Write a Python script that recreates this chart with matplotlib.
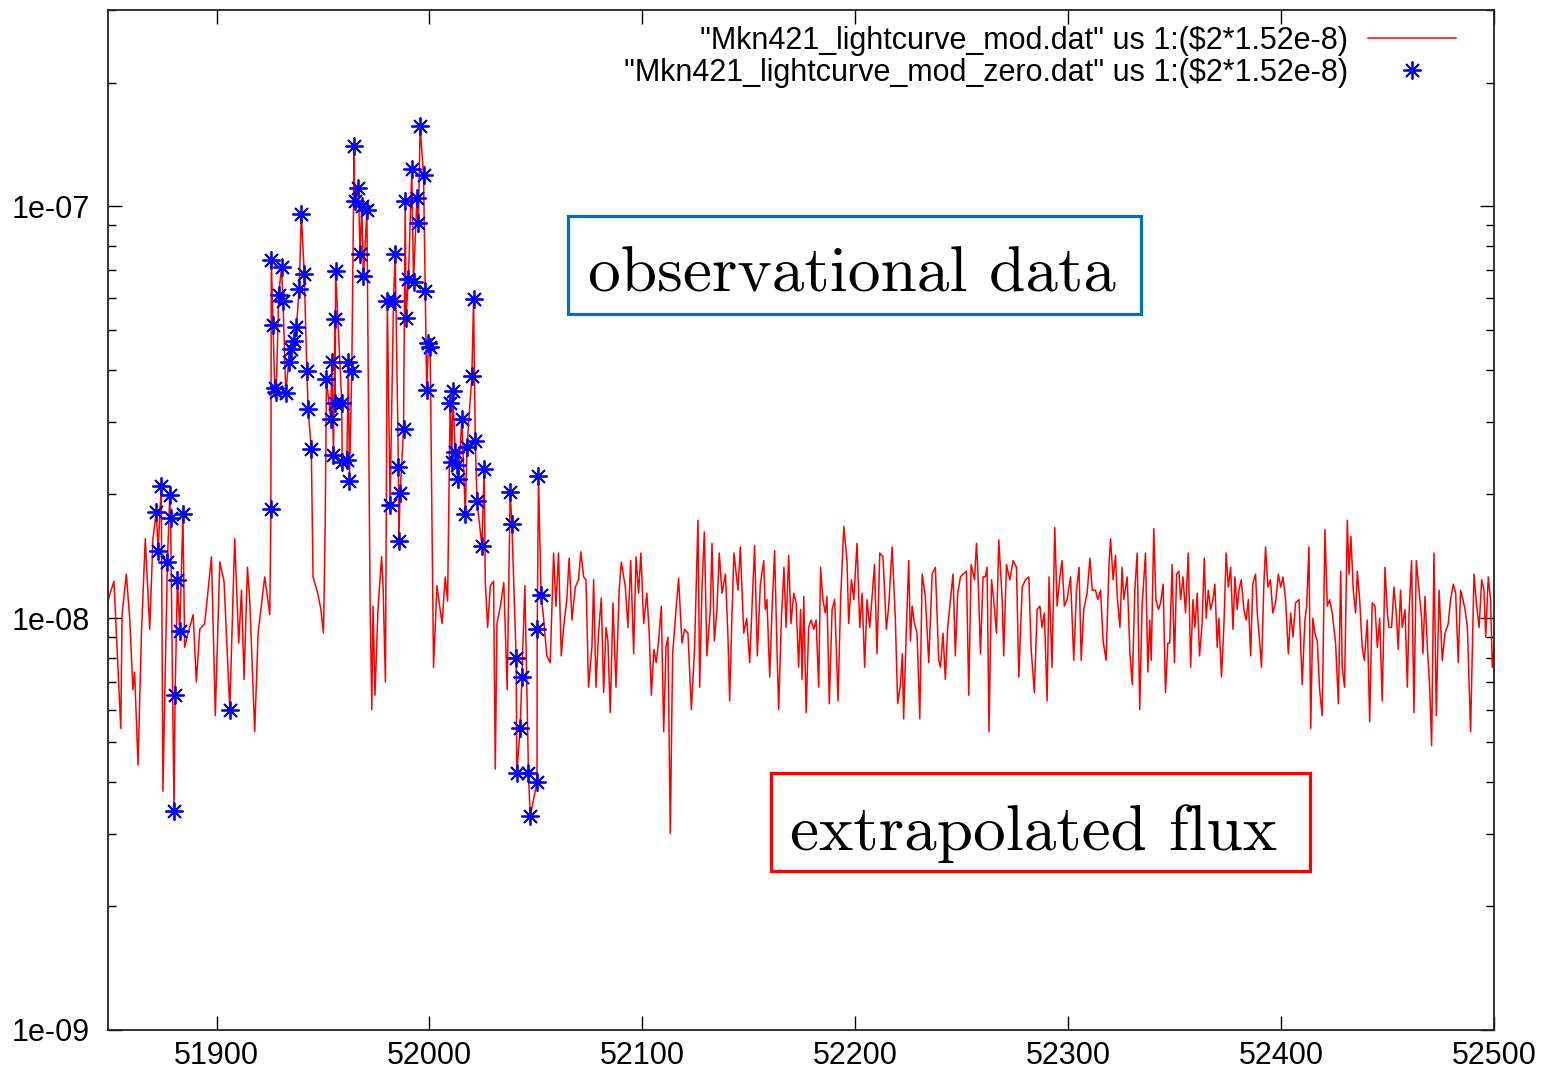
import matplotlib
matplotlib.use("Agg")
import matplotlib.pyplot as plt
import matplotlib.ticker as mticker
from matplotlib.lines import Line2D
from matplotlib.patches import Rectangle
import numpy as np

# ---------------- data (flux in units of 1e-8) ----------------
scale = 1e-8

star_mjd = [51871.7, 51872.5, 51874.0, 51876.9, 51878.0, 51878.4, 51880.0, 51880.5, 51881.6, 51882.7, 51884.2,
            51906.2,
            51925.5, 51925.7, 51926.5, 51927.3, 51928.0, 51929.2, 51930.5, 51931.2, 51932.5, 51933.8, 51935.0,
            51936.3, 51937.5, 51938.8, 51939.8, 51941.2, 51942.4, 51943.0, 51944.5,
            51951.6, 51953.6, 51954.1, 51954.9, 51955.6, 51955.7, 51955.9, 51958.8, 51959.0, 51961.2, 51961.9,
            51962.4, 51963.5, 51964.6, 51964.8, 51966.6, 51967.4, 51968.2, 51969.0, 51970.6,
            51980.2, 51981.5, 51983.1, 51983.9, 51985.4, 51985.6, 51986.2, 51987.8, 51988.6, 51989.0, 51990.1,
            51991.7, 51992.5, 51994.1, 51994.8, 51995.6, 51997.2, 51998.0, 51998.7, 51999.5, 52000.3,
            52009.7, 52010.5, 52010.9, 52012.1, 52012.9, 52013.6, 52015.2, 52016.8, 52017.6, 52019.9, 52020.7,
            52021.5, 52022.3, 52024.6, 52025.7,
            52037.9, 52038.7, 52040.7, 52041.0, 52042.6, 52043.4, 52046.5, 52047.3, 52050.5, 52050.6, 52051.2,
            52052.4]
star_flux = [1.81, 1.46, 2.09, 1.37, 1.99, 1.75, 0.34, 0.65, 1.24, 0.93, 1.79,
             0.60,
             1.84, 7.42, 5.14, 3.62, 3.55, 6.10, 7.13, 5.90, 3.52, 4.18, 4.50,
             4.72, 5.10, 6.30, 9.60, 6.84, 3.98, 3.22, 2.57,
             3.81, 3.05, 4.18, 2.49, 5.32, 3.34, 6.96, 3.34, 2.39, 2.42, 4.20,
             2.15, 3.98, 14.05, 10.3, 11.1, 7.67, 10.0, 6.79, 9.80,
             5.91, 1.88, 5.91, 7.67, 2.33, 1.54, 2.01, 2.88, 10.3, 5.37, 6.67,
             12.3, 6.56, 10.5, 9.10, 15.7, 11.9, 6.22, 3.58, 4.65, 4.55,
             3.34, 2.39, 3.57, 2.53, 2.36, 2.18, 3.05, 1.79, 2.60, 3.87, 5.95,
             2.70, 1.93, 1.50, 2.30,
             2.03, 1.69, 0.80, 0.42, 0.54, 0.72, 0.42, 0.33, 0.40, 0.94, 2.21,
             1.14]

# gap-filling points inside the observing period (red line only)
gap_mjd = [51849.0, 51849.8, 51851.8, 51855.0, 51855.6, 51857.6, 51859.2, 51860.7, 51861.5, 51863.1, 51864.7,
           51866.5, 51868.6, 51870.1, 51874.8, 51885.0, 51886.6, 51889.0, 51890.5, 51892.1, 51894.4, 51897.6,
           51899.4, 51901.5, 51903.5, 51908.5, 51910.4, 51911.7, 51912.9, 51914.5, 51915.6, 51917.9, 51919.5,
           51922.6, 51925.0, 51945.3, 51947.5, 51949.0, 51950.2, 51951.0,
           51972.1, 51972.9, 51973.5, 51974.4, 51975.8, 51977.5, 51978.2, 51979.3,
           52001.9, 52003.5, 52005.9, 52007.4, 52008.5,
           52026.2, 52027.3, 52028.6, 52030.1, 52030.9, 52031.7, 52033.3, 52034.9, 52036.5,
           52044.8, 52053.6]
gap_flux = [1.10, 1.14, 1.23, 0.54, 1.02, 1.28, 1.00, 0.67, 0.74, 0.44, 0.92,
            1.56, 0.94, 1.56, 0.38, 0.85, 0.92, 1.02, 0.70, 0.94, 0.97, 1.41,
            0.58, 1.37, 1.23, 1.56, 0.87, 1.17, 0.71, 1.33, 1.10, 0.53, 0.92,
            1.26, 1.02, 1.26, 1.15, 1.05, 0.92, 1.65,
            1.10, 0.60, 1.07, 0.65, 1.05, 1.41, 1.20, 0.70,
            0.76, 1.20, 0.97, 1.26, 1.10,
            1.23, 0.95, 1.20, 1.23, 0.43, 0.97, 1.07, 1.22, 0.67,
            1.20, 1.00]

# extrapolated flux after the observations
ext_mjd = [52055.1, 52056.7, 52058.3, 52059.4, 52060.6, 52061.9, 52063.0, 52064.5, 52065.6, 52066.9, 52068.5,
           52070.0, 52071.1, 52072.4, 52073.5, 52074.7, 52076.3, 52077.1, 52078.2, 52079.4, 52080.7, 52081.8,
           52082.9, 52083.8, 52084.9, 52086.2, 52087.6, 52089.1, 52090.1, 52092.0, 52093.2, 52094.5, 52095.9,
           52097.0, 52098.2, 52099.3, 52100.6, 52102.1, 52103.2, 52104.2, 52105.4, 52106.5, 52107.6, 52108.9,
           52110.0, 52111.1, 52112.0, 52113.1, 52114.2, 52115.8, 52117.0, 52118.6, 52119.8, 52121.4, 52123.0,
           52124.5, 52126.1, 52126.9, 52128.0, 52129.1, 52130.3, 52131.9, 52132.7, 52133.8, 52135.0, 52136.1,
           52137.4, 52139.0, 52140.2, 52141.0, 52142.1, 52143.0, 52144.9, 52146.0, 52147.6, 52149.0, 52150.4,
           52151.5, 52152.7, 52154.0, 52155.4, 52157.0, 52157.7, 52158.5, 52159.8, 52160.9, 52162.1, 52163.2,
           52164.0, 52165.3, 52166.5, 52167.5, 52168.7, 52169.8, 52171.1, 52172.2, 52173.4, 52174.3, 52175.0,
           52175.8, 52176.9, 52178.1, 52179.2, 52180.5, 52181.6, 52182.8, 52183.7, 52184.8, 52185.9, 52186.7,
           52187.8, 52189.1, 52190.3, 52191.9, 52193.1, 52194.6, 52196.1, 52196.9, 52198.2, 52199.3, 52200.8,
           52202.1, 52203.2, 52204.4,
           52205.5, 52206.8, 52207.9, 52209.0, 52210.2, 52211.5, 52213.0, 52214.6, 52215.7, 52217.3, 52218.8,
           52219.9, 52221.2, 52222.1, 52222.7, 52224.0, 52225.1, 52225.9, 52226.7, 52227.8, 52229.0, 52230.3,
           52231.4, 52232.9, 52234.5, 52236.1, 52237.6, 52239.2, 52240.0, 52241.2, 52242.3, 52243.4, 52244.7,
           52245.9, 52247.0, 52248.1, 52249.4, 52250.6, 52252.2, 52253.3, 52254.4, 52256.0, 52256.9, 52257.5,
           52258.8, 52260.0, 52261.1, 52261.9, 52262.8, 52264.0, 52265.0, 52266.3, 52267.4, 52269.0, 52269.7,
           52271.0, 52272.6, 52274.1, 52275.7, 52276.8, 52278.4, 52279.9, 52281.5, 52282.6, 52284.1, 52285.4,
           52286.7, 52287.7, 52288.8, 52290.1, 52291.0, 52292.4, 52293.7, 52294.8, 52296.1, 52297.1, 52298.2,
           52299.5, 52301.1, 52302.6, 52303.9, 52305.1, 52306.1, 52307.3, 52308.9, 52310.2, 52311.3, 52312.8,
           52313.9, 52315.2, 52316.4, 52317.8, 52319.1, 52319.9, 52321.1, 52322.2, 52323.0, 52324.3, 52325.3,
           52326.1, 52327.7, 52329.0, 52330.1, 52331.3, 52332.4, 52333.6, 52334.7, 52336.3, 52337.4, 52338.3,
           52339.0, 52340.2, 52341.2, 52342.4, 52343.4, 52344.6, 52345.7, 52346.8, 52347.7, 52348.8, 52349.9,
           52350.9, 52352.0,
           52352.8, 52353.9, 52355.1, 52356.4, 52357.5, 52358.6, 52359.5, 52360.6, 52361.7, 52362.9, 52363.9,
           52364.8, 52365.8, 52366.9, 52368.0, 52368.9, 52370.0, 52370.8, 52372.0, 52373.1, 52374.2, 52375.2,
           52376.3, 52377.4, 52378.3, 52379.4, 52380.2, 52381.3, 52382.5, 52383.6, 52384.6, 52385.7, 52386.7,
           52388.0, 52388.8, 52389.9, 52390.8, 52391.9, 52392.7, 52393.8, 52395.0, 52396.1, 52397.4, 52398.7,
           52399.8, 52400.9, 52402.1, 52403.4, 52404.5, 52405.6, 52406.8, 52408.4, 52409.9, 52411.2, 52412.0,
           52413.1, 52413.9, 52414.9, 52415.9, 52417.0, 52418.1, 52419.3, 52420.6, 52421.7, 52422.8, 52424.0,
           52425.6, 52426.9, 52428.0, 52428.7, 52429.8, 52431.1, 52431.9, 52432.8, 52433.9, 52435.0, 52435.8,
           52436.9, 52438.1, 52439.1, 52440.5, 52441.6, 52442.8, 52444.1, 52445.2, 52446.3, 52447.5, 52448.8,
           52449.9, 52450.7, 52451.9, 52453.0, 52454.1, 52455.0, 52456.1, 52456.9, 52458.2, 52459.3, 52460.1,
           52461.3, 52462.4, 52463.5, 52464.8, 52466.0, 52466.6, 52467.6, 52468.7, 52469.8, 52470.7, 52471.8,
           52472.9, 52474.2, 52475.7, 52477.0, 52478.5, 52479.6, 52480.9, 52482.0, 52483.2, 52484.3, 52485.4,
           52486.4, 52487.5, 52489.0, 52490.6, 52491.7, 52493.0, 52494.2, 52495.3, 52496.1, 52497.3, 52498.4,
           52499.2, 52500.0]
ext_flux = [0.81, 0.78, 1.44, 1.07, 1.44, 0.81, 0.95, 1.11, 1.40, 0.99, 1.19,
            1.24, 1.45, 1.26, 1.24, 0.68, 0.85, 1.24, 0.68, 0.92, 1.12, 0.66,
            0.95, 0.88, 0.59, 1.09, 0.68, 1.17, 1.37, 1.19, 0.95, 1.38, 0.82,
            1.41, 1.15, 1.44, 0.97, 1.15, 0.92, 0.65, 0.84, 0.78, 0.88, 1.07,
            0.53, 0.85, 0.90, 0.30, 0.82, 1.05, 1.25, 0.87, 0.94, 0.92, 0.60,
            0.84, 1.73, 0.68, 1.19, 1.62, 0.81, 1.05, 1.52, 0.88, 1.05, 1.44,
            1.15, 1.28, 0.90, 0.63, 1.03, 1.44, 1.17, 1.49, 0.92, 1.00, 0.78,
            1.07, 1.50, 0.81, 1.21, 1.38, 1.05, 1.11, 0.72, 1.05, 1.46, 0.85,
            0.60, 1.00, 1.33, 0.95, 1.42, 0.97, 1.15, 1.09, 0.76, 1.05, 0.71,
            1.13, 0.59, 0.95, 0.99, 0.94, 0.99, 0.68, 1.33, 1.11, 1.03, 1.13,
            0.62, 1.05, 1.11, 0.63, 1.11, 1.67, 1.38, 0.97, 1.24, 1.11, 1.52,
            0.95, 1.15, 0.76,
            1.11, 0.95, 1.13, 1.35, 0.82, 1.44, 1.41, 0.94, 1.07, 1.49, 1.00,
            0.62, 0.69, 0.82, 0.57, 0.95, 1.38, 0.88, 1.07, 0.97, 0.92, 0.57,
            1.28, 1.13, 0.78, 1.28, 1.33, 0.79, 0.76, 0.92, 0.71, 0.95, 1.11,
            1.28, 0.81, 1.15, 1.26, 1.28, 1.30, 0.65, 1.35, 1.24, 1.52, 1.33,
            0.82, 1.26, 1.26, 1.33, 0.53, 1.24, 1.11, 0.92, 1.55, 1.11, 0.81,
            1.35, 1.24, 1.38, 1.33, 0.72, 1.19, 1.24, 1.26, 0.84, 0.66, 1.05,
            1.07, 0.95, 1.03, 0.63, 1.26, 0.76, 1.66, 1.07, 1.26, 1.38, 1.07,
            1.11, 1.26, 0.79, 1.17, 1.33, 0.79, 1.05, 1.15, 1.40, 1.17, 1.17,
            1.11, 1.17, 0.88, 0.79, 1.33, 1.56, 1.24, 1.42, 1.13, 0.95, 1.33,
            1.11, 1.26, 0.82, 0.69, 1.17, 1.44, 0.60, 1.07, 1.44, 0.74, 0.99,
            0.79, 1.65, 1.11, 1.05, 1.09, 1.21, 0.66, 0.87, 0.87, 1.35, 0.78,
            1.28, 1.30,
            1.11, 1.26, 1.03, 1.44, 0.76, 1.11, 0.95, 1.15, 0.81, 0.97, 1.40,
            1.00, 1.17, 1.05, 1.11, 1.21, 0.85, 1.00, 0.72, 0.95, 1.44, 1.19,
            1.33, 0.94, 1.26, 1.05, 1.17, 1.24, 1.05, 0.99, 1.11, 0.81, 1.21,
            1.28, 1.03, 0.88, 0.76, 1.21, 1.49, 1.19, 1.24, 1.03, 1.09, 1.28,
            1.19, 1.26, 1.11, 0.82, 1.03, 0.90, 1.09, 1.11, 0.69, 0.99, 1.07,
            1.49, 0.54, 1.00, 0.92, 0.88, 0.67, 0.58, 1.64, 1.07, 1.11, 1.03,
            0.87, 0.62, 1.30, 0.76, 0.68, 1.73, 1.28, 1.58, 1.17, 1.03, 1.30,
            1.11, 0.85, 0.79, 0.99, 0.56, 1.09, 1.07, 0.85, 1.00, 0.63, 1.33,
            1.03, 0.95, 0.95, 1.19, 1.03, 0.84, 1.17, 0.95, 1.05, 0.68, 1.03,
            1.38, 0.59, 1.38, 1.17, 1.00, 0.82, 1.13, 0.85, 0.68, 0.49, 1.44,
            0.58, 1.17, 0.79, 0.92, 0.97, 1.11, 1.21, 1.15, 0.78, 1.17, 1.11,
            1.05, 0.95, 0.53, 1.28, 1.09, 0.95, 1.24, 1.17, 0.90, 1.26, 1.11,
            0.76, 0.85]

x_ticks = [51900, 52000, 52100, 52200, 52300, 52400, 52500]
y_ticks = [1e-9, 1e-8, 1e-7]
y_tick_labels = ["1e-09", "1e-08", "1e-07"]
legend_labels = ['"Mkn421_lightcurve_mod.dat" us 1:(\\$2*1.52e-8)',
                 '"Mkn421_lightcurve_mod_zero.dat" us 1:(\\$2*1.52e-8)']
box_texts = ["observational data", "extrapolated flux"]

# ---------------- figure ----------------
W, H = 1546, 1076
plt.rcParams['font.family'] = ['Liberation Sans', 'DejaVu Sans']
fig = plt.figure(figsize=(W / 100, H / 100), dpi=100)
ax = fig.add_axes([108 / W, 1 - 1030 / H, (1494 - 108) / W, (1030 - 10) / H])

# red light curve: observed + gap-filled + extrapolated points in time order
all_mjd = np.array(star_mjd + gap_mjd + ext_mjd)
all_flux = np.array(star_flux + gap_flux + ext_flux) * scale
order = np.argsort(all_mjd, kind="stable")
ax.plot(all_mjd[order], all_flux[order], color="#ff0000", lw=1.1, zorder=2)
ax.plot(np.array(star_mjd), np.array(star_flux) * scale, linestyle="none",
        marker=(8, 2, 0), markersize=13, markeredgewidth=1.3, color="#0000ff", zorder=3)

ax.set_yscale("log")
ax.set_xlim(51849, 52500)
ax.set_ylim(1e-9, 3e-7)
ax.set_xticks(x_ticks)
ax.set_xticklabels([str(t) for t in x_ticks])
ax.set_yticks(y_ticks)
ax.set_yticklabels(y_tick_labels)
ax.yaxis.set_minor_locator(mticker.LogLocator(base=10, subs=np.arange(2, 10)))
ax.yaxis.set_minor_formatter(mticker.NullFormatter())

ax.tick_params(which="both", direction="in", top=True, right=True, colors="black")
ax.tick_params(which="major", length=10, width=1.0, labelsize=22)
ax.tick_params(which="minor", length=5.5, width=1.0)
ax.tick_params(axis="x", pad=8)
ax.tick_params(axis="y", pad=13)
for s in ax.spines.values():
    s.set_linewidth(1.3)
    s.set_color("#222222")

# legend
h1 = Line2D([], [], color="#ff0000", lw=1.1)
h2 = Line2D([], [], linestyle="none", marker=(8, 2, 0), markersize=13, markeredgewidth=1.3, color="#0000ff")
leg = ax.legend([h1, h2], legend_labels, loc="upper right", frameon=False, markerfirst=False,
                fontsize=22, handlelength=2.88, handletextpad=0.65, labelspacing=0.06,
                borderpad=0, borderaxespad=0,
                bbox_to_anchor=(1456 / W, 1 - 26 / H), bbox_transform=fig.transFigure)

# annotation boxes
fig.add_artist(Rectangle((568 / W, 1 - 314 / H), (1141 - 568) / W, (314 - 216) / H,
                         transform=fig.transFigure, fill=False, edgecolor="#0070c0", lw=2.3))
fig.text(588 / W, 1 - 292 / H, box_texts[0], family="cmr10", fontsize=47, ha="left", va="baseline", color="black")
fig.add_artist(Rectangle((771 / W, 1 - 871 / H), (1310 - 771) / W, (871 - 773) / H,
                         transform=fig.transFigure, fill=False, edgecolor="#ff0000", lw=2.3))
fig.text(790 / W, 1 - 850 / H, box_texts[1], family="cmr10", fontsize=47, ha="left", va="baseline", color="black")

fig.savefig("out.png", dpi=100)
